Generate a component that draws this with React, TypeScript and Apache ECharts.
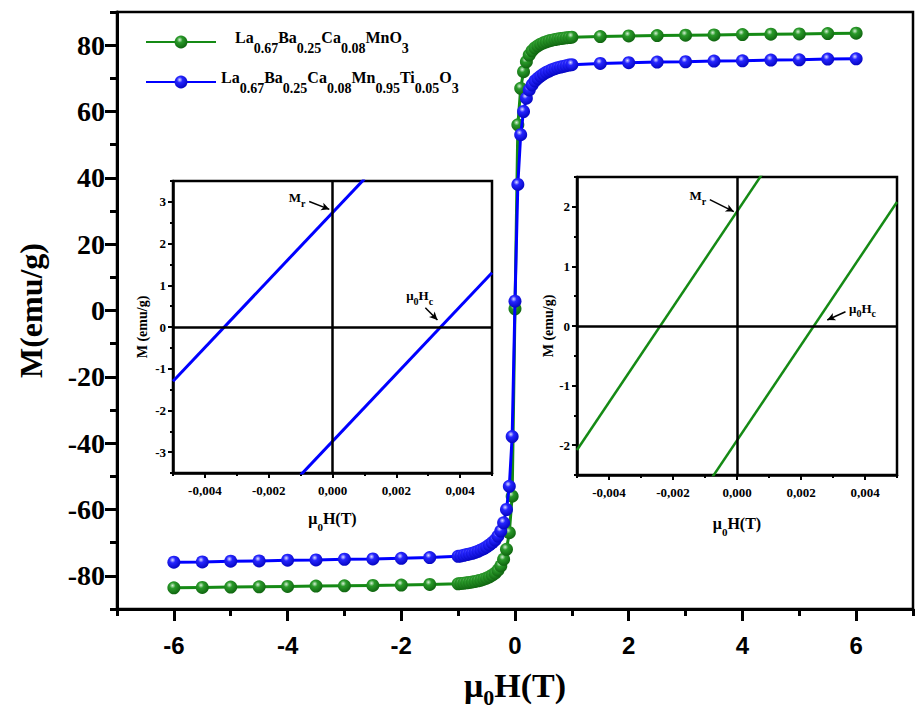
import React, { useEffect, useRef } from "react";
import * as echarts from "echarts";

// Applied field μ0H (T), one sweep from -6 T to +6 T
const fieldT = [
  -6, -5.5, -5, -4.5, -4, -3.5, -3, -2.5, -2, -1.5,
  -1, -0.95, -0.9, -0.85, -0.8, -0.75, -0.7, -0.65, -0.6, -0.55,
  -0.5, -0.45, -0.4, -0.35, -0.3, -0.25, -0.2, -0.15, -0.1, -0.05,
  0,
  0.05, 0.1, 0.15, 0.2, 0.25, 0.3, 0.35, 0.4, 0.45, 0.5,
  0.55, 0.6, 0.65, 0.7, 0.75, 0.8, 0.85, 0.9, 0.95, 1,
  1.5, 2, 2.5, 3, 3.5, 4, 4.5, 5, 5.5, 6,
];

// Magnetization (emu/g) of La0.67Ba0.25Ca0.08MnO3
const mGreen = [
  -83.6, -83.5, -83.4, -83.3, -83.2, -83.1, -83.0, -82.9, -82.8, -82.6,
  -82.4, -82.3, -82.2, -82.1, -82.0, -81.85, -81.7, -81.5, -81.3, -81.0,
  -80.7, -80.3, -79.8, -79.2, -78.3, -77.0, -75.0, -72.0, -67.0, -56.0,
  0.5,
  56.0, 67.0, 72.0, 75.0, 77.0, 78.3, 79.2, 79.8, 80.3, 80.7,
  81.0, 81.3, 81.5, 81.7, 81.85, 82.0, 82.1, 82.2, 82.3, 82.4,
  82.6, 82.8, 82.9, 83.0, 83.1, 83.2, 83.3, 83.4, 83.5, 83.6,
];

// Magnetization (emu/g) of La0.67Ba0.25Ca0.08Mn0.95Ti0.05O3
const mBlue = [
  -75.9, -75.8, -75.6, -75.5, -75.3, -75.2, -75.0, -74.9, -74.7, -74.5,
  -74.1, -74.0, -73.8, -73.6, -73.4, -73.2, -72.9, -72.6, -72.2, -71.8,
  -71.3, -70.7, -70.0, -69.2, -68.0, -66.5, -64.0, -60.0, -53.0, -38.0,
  2.8,
  38.0, 53.0, 60.0, 64.0, 66.5, 68.0, 69.2, 70.0, 70.7, 71.3,
  71.8, 72.2, 72.6, 72.9, 73.2, 73.4, 73.6, 73.8, 74.0, 74.1,
  74.5, 74.7, 74.9, 75.0, 75.2, 75.3, 75.5, 75.6, 75.8, 75.9,
];

// Low-field branches of the hysteresis loops (insets)
const tiUpperH = [-0.005, 0.001];
const tiUpperM = [-1.3, 3.55];
const tiLowerH = [-0.001, 0.005];
const tiLowerM = [-3.55, 1.3];
const mnUpperH = [-0.005, 0.0008];
const mnUpperM = [-2.08, 2.56];
const mnLowerH = [-0.0008, 0.005];
const mnLowerM = [-2.56, 2.08];

// Tick values
const xTicksMain = [-6, -4, -2, 0, 2, 4, 6];
const xMinorMain = [-7, -5, -3, -1, 1, 3, 5, 7];
const yTicksMain = [-80, -60, -40, -20, 0, 20, 40, 60, 80];
const yMinorMain = [-90, -70, -50, -30, -10, 10, 30, 50, 70, 90];
const insetXTicks = [-0.004, -0.002, 0, 0.002, 0.004];
const insetXMinor = [-0.005, -0.003, -0.001, 0.001, 0.003, 0.005];
const tiYTicks = [-3, -2, -1, 0, 1, 2, 3];
const tiYMinor = [-3.5, -2.5, -1.5, -0.5, 0.5, 1.5, 2.5, 3.5];
const mnYTicks = [-2, -1, 0, 1, 2];
const mnYMinor = [-2.5, -1.5, -0.5, 0.5, 1.5, 2.5];

const nameMn = "La0.67Ba0.25Ca0.08MnO3";
const nameTi = "La0.67Ba0.25Ca0.08Mn0.95Ti0.05O3";

const SERIF = "'Liberation Serif', 'Times New Roman', serif";
const SANS = "'Liberation Sans', Arial, sans-serif";
const GREEN = "#158a15";
const BLUE = "#0000ff";

const zip = (xs: number[], ys: number[]) => xs.map((x, i) => [x, ys[i]]);

const ball = (light: string, mid: string, dark: string) => ({
  type: "radial",
  x: 0.4,
  y: 0.33,
  r: 0.75,
  colorStops: [
    { offset: 0, color: light },
    { offset: 0.3, color: mid },
    { offset: 1, color: dark },
  ],
});

const commaFmt = (v: number) => v.toFixed(3).replace(".", ",");

const muRich = (size: number, sub: number) => ({
  a: { fontFamily: SERIF, fontWeight: "bold", fontSize: size, lineHeight: size + 6, verticalAlign: "top", color: "#000" },
  b: { fontFamily: SERIF, fontWeight: "bold", fontSize: sub, lineHeight: sub + 2, verticalAlign: "bottom", color: "#000" },
});

function mainX(minor: boolean) {
  return {
    type: "value",
    gridIndex: 0,
    min: -7,
    max: 7,
    position: "bottom",
    axisLine: { show: !minor, onZero: false, lineStyle: { color: "#000", width: 3 } },
    axisTick: {
      show: true,
      customValues: minor ? xMinorMain : xTicksMain,
      length: minor ? 7 : 12,
      lineStyle: { color: "#000", width: 3 },
    },
    axisLabel: {
      show: !minor,
      customValues: minor ? xMinorMain : xTicksMain,
      fontFamily: SANS,
      fontWeight: "bold",
      fontSize: 24,
      color: "#000",
      margin: 24,
    },
    splitLine: { show: false },
    ...(minor
      ? {}
      : {
          name: "{a|μ}{b|0}{a|H(T)}",
          nameLocation: "middle",
          nameGap: 59,
          nameTextStyle: { rich: muRich(34, 22) },
        }),
  };
}

function mainY(minor: boolean) {
  return {
    type: "value",
    gridIndex: 0,
    min: -90,
    max: 90,
    position: "left",
    axisLine: { show: !minor, onZero: false, lineStyle: { color: "#000", width: 3 } },
    axisTick: {
      show: true,
      customValues: minor ? yMinorMain : yTicksMain,
      length: minor ? 7 : 12,
      lineStyle: { color: "#000", width: 3 },
    },
    axisLabel: {
      show: !minor,
      customValues: minor ? yMinorMain : yTicksMain,
      fontFamily: SERIF,
      fontWeight: "bold",
      fontSize: 28,
      color: "#000",
      margin: 12,
    },
    splitLine: { show: false },
    ...(minor
      ? {}
      : {
          name: "M(emu/g)",
          nameLocation: "middle",
          nameGap: 70,
          nameTextStyle: { fontFamily: SERIF, fontWeight: "bold", fontSize: 32, color: "#000" },
        }),
  };
}

function insetX(grid: number, minor: boolean, gap: number) {
  return {
    type: "value",
    gridIndex: grid,
    min: -0.005,
    max: 0.005,
    position: "bottom",
    axisLine: { show: !minor, onZero: false, lineStyle: { color: "#000", width: 2.5 } },
    axisTick: {
      show: true,
      customValues: minor ? insetXMinor : insetXTicks,
      length: minor ? 3 : 5,
      lineStyle: { color: "#000", width: 2 },
    },
    axisLabel: {
      show: !minor,
      customValues: minor ? insetXMinor : insetXTicks,
      formatter: commaFmt,
      fontFamily: SERIF,
      fontWeight: "bold",
      fontSize: 13,
      color: "#000",
      margin: 11,
    },
    splitLine: { show: false },
    ...(minor
      ? {}
      : {
          name: "{a|μ}{b|0}{a|H(T)}",
          nameLocation: "middle",
          nameGap: gap,
          nameTextStyle: { rich: muRich(16, 11) },
        }),
  };
}

function insetY(grid: number, minor: boolean, lim: number, ticks: number[], minors: number[], gap: number) {
  return {
    type: "value",
    gridIndex: grid,
    min: -lim,
    max: lim,
    position: "left",
    axisLine: { show: !minor, onZero: false, lineStyle: { color: "#000", width: 2.5 } },
    axisTick: {
      show: true,
      customValues: minor ? minors : ticks,
      length: minor ? 3 : 5,
      lineStyle: { color: "#000", width: 2 },
    },
    axisLabel: {
      show: !minor,
      customValues: minor ? minors : ticks,
      fontFamily: SERIF,
      fontWeight: "bold",
      fontSize: 13,
      color: "#000",
      margin: 7,
    },
    splitLine: { show: false },
    ...(minor
      ? {}
      : {
          name: "M (emu/g)",
          nameLocation: "middle",
          nameGap: gap,
          nameTextStyle: { fontFamily: SERIF, fontWeight: "bold", fontSize: 14, color: "#000" },
        }),
  };
}

const annoRich = {
  m: { fontFamily: SERIF, fontWeight: "bold", fontSize: 13, lineHeight: 17, verticalAlign: "top", color: "#000" },
  s: { fontFamily: SERIF, fontWeight: "bold", fontSize: 10, lineHeight: 11, verticalAlign: "bottom", color: "#000" },
};

const crossHair = {
  silent: true,
  symbol: "none",
  label: { show: false },
  lineStyle: { color: "#000", width: 2.5, type: "solid" },
  data: [{ xAxis: 0 }, { yAxis: 0 }],
};

function arrows(items: { from: number[]; to: number[]; text: string; dist: number[] }[]) {
  return {
    silent: true,
    symbol: ["none", "arrow"],
    symbolSize: [6, 8],
    lineStyle: { color: "#000", width: 1.5, type: "solid" },
    label: { show: true, position: "start", rich: annoRich },
    data: items.map((it) => [
      { coord: it.from, label: { formatter: it.text, distance: it.dist } },
      { coord: it.to },
    ]),
  };
}

const legendText: Record<string, string> = {
  [nameMn]: "{g| }{t|La}{s|0.67}{t|Ba}{s|0.25}{t|Ca}{s|0.08}{t|MnO}{s|3}",
  [nameTi]: "{t|La}{s|0.67}{t|Ba}{s|0.25}{t|Ca}{s|0.08}{t|Mn}{s|0.95}{t|Ti}{s|0.05}{t|O}{s|3}",
};

export default function App() {
  const ref = useRef<HTMLDivElement>(null);

  useEffect(() => {
    if (!ref.current) return;
    const chart = echarts.init(ref.current, null, { renderer: "svg" });

    const option: any = {
      animation: false,
      backgroundColor: "#fff",
      grid: [
        { left: 117, top: 12, width: 796, height: 605, show: true, borderColor: "#000", borderWidth: 2.5, backgroundColor: "transparent" },
        { left: 173, top: 181, width: 319, height: 292, show: true, borderColor: "#000", borderWidth: 2.5, backgroundColor: "#fff" },
        { left: 577, top: 177, width: 320, height: 298, show: true, borderColor: "#000", borderWidth: 2.5, backgroundColor: "#fff" },
      ],
      xAxis: [
        mainX(false),
        mainX(true),
        insetX(1, false, 37),
        insetX(1, true, 0),
        insetX(2, false, 40),
        insetX(2, true, 0),
      ],
      yAxis: [
        mainY(false),
        mainY(true),
        insetY(1, false, 3.5, tiYTicks, tiYMinor, 24),
        insetY(1, true, 3.5, tiYTicks, tiYMinor, 0),
        insetY(2, false, 2.5, mnYTicks, mnYMinor, 22),
        insetY(2, true, 2.5, mnYTicks, mnYMinor, 0),
      ],
      legend: {
        data: [nameMn, nameTi],
        orient: "vertical",
        left: 145,
        top: 29,
        padding: 0,
        itemWidth: 70,
        itemHeight: 16,
        itemGap: 14,
        selectedMode: false,
        formatter: (n: string) => legendText[n] || n,
        textStyle: {
          rich: {
            g: { width: 14, fontSize: 16, lineHeight: 26 },
            t: { fontFamily: SERIF, fontWeight: "bold", fontSize: 16, lineHeight: 26, verticalAlign: "top", color: "#000" },
            s: { fontFamily: SERIF, fontWeight: "bold", fontSize: 14, lineHeight: 14, verticalAlign: "bottom", color: "#000" },
          },
        },
      },
      series: [
        {
          name: nameMn,
          type: "line",
          xAxisIndex: 0,
          yAxisIndex: 0,
          data: zip(fieldT, mGreen),
          symbol: "circle",
          symbolSize: 13,
          lineStyle: { color: GREEN, width: 3 },
          itemStyle: { color: ball("#d6f0d6", "#2a9a2a", "#0b5c0b") },
          z: 3,
        },
        {
          name: nameTi,
          type: "line",
          xAxisIndex: 0,
          yAxisIndex: 0,
          data: zip(fieldT, mBlue),
          symbol: "circle",
          symbolSize: 13,
          lineStyle: { color: BLUE, width: 3 },
          itemStyle: { color: ball("#dcdcff", "#2626ff", "#0000b8") },
          z: 4,
        },
        {
          name: "Ti branch down",
          type: "line",
          xAxisIndex: 2,
          yAxisIndex: 2,
          data: zip(tiUpperH, tiUpperM),
          symbol: "none",
          lineStyle: { color: BLUE, width: 3 },
          markLine: crossHair,
        },
        {
          name: "Ti branch up",
          type: "line",
          xAxisIndex: 2,
          yAxisIndex: 2,
          data: zip(tiLowerH, tiLowerM),
          symbol: "none",
          lineStyle: { color: BLUE, width: 3 },
          markLine: arrows([
            { from: [-0.00073, 3.01], to: [-0.0001, 2.82], text: "{m|M}{s|r}", dist: [4, 4] },
            { from: [0.00291, 0.46], to: [0.00329, 0.17], text: "{m|μ}{s|0}{m|H}{s|c}", dist: [8, 14] },
          ]),
        },
        {
          name: "Mn branch down",
          type: "line",
          xAxisIndex: 4,
          yAxisIndex: 4,
          data: zip(mnUpperH, mnUpperM),
          symbol: "none",
          lineStyle: { color: GREEN, width: 2.5 },
          markLine: crossHair,
        },
        {
          name: "Mn branch up",
          type: "line",
          xAxisIndex: 4,
          yAxisIndex: 4,
          data: zip(mnLowerH, mnLowerM),
          symbol: "none",
          lineStyle: { color: GREEN, width: 2.5 },
          markLine: arrows([
            { from: [-0.00085, 2.12], to: [-0.0001, 1.92], text: "{m|M}{s|r}", dist: [4, 4] },
            { from: [0.00339, 0.24], to: [0.00282, 0.1], text: "{m|μ}{s|0}{m|H}{s|c}", dist: [4, 4] },
          ]),
        },
      ],
    };

    chart.setOption(option);
    return () => chart.dispose();
  }, []);

  return (
    <div
      ref={ref}
      style={{ position: "fixed", left: 0, top: 0, width: 915, height: 713, background: "#fff" }}
    />
  );
}
